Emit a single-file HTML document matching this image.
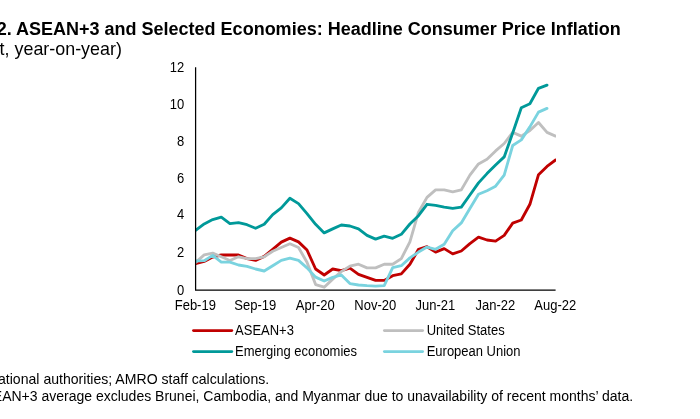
<!DOCTYPE html>
<html lang="en"><head><meta charset="utf-8"><title>ASEAN+3 and Selected Economies: Headline Consumer Price Inflation</title>
<style>
html,body{margin:0;padding:0;background:#fff;}
body{width:700px;height:419px;position:relative;overflow:hidden;}
svg{position:absolute;left:0;top:0;display:block;}
svg text{font-family:"Liberation Sans",Arial,sans-serif;fill:#000;white-space:pre;}
.a{font-size:13px;}
.h{font-size:18px;font-weight:bold;}
.s{font-size:18px;}
.f{font-size:14px;}
</style></head><body>
<svg width="700" height="419" viewBox="0 0 700 419">
<text class="h" transform="translate(-3.30 35.30) scale(1 1)">2. ASEAN+3 and Selected Economies: Headline Consumer Price Inflation</text>
<text class="s" transform="translate(-0.40 55.40) scale(0.994 1)">t, year-on-year)</text>
<clipPath id="pc"><rect x="195.6" y="50" width="360.4" height="260"/></clipPath>
<g fill="none" stroke-width="2.85" stroke-linejoin="round" stroke-linecap="round" clip-path="url(#pc)">
<polyline stroke="#C00000" points="195.6,263.6 204.2,261.4 212.7,257.0 221.3,255.0 229.9,255.0 238.5,255.0 247.0,258.6 255.6,260.4 264.2,256.4 272.7,249.3 281.3,242.1 289.9,238.1 298.5,241.9 307.0,250.0 315.6,269.0 324.2,275.0 332.7,269.0 341.3,270.7 349.9,268.1 358.5,274.3 367.0,277.4 375.6,280.4 384.2,280.4 392.7,275.7 401.3,273.9 409.9,264.3 418.5,249.3 427.0,246.7 435.6,252.1 444.2,248.6 452.7,253.9 461.3,251.0 469.9,243.6 478.5,237.1 487.0,240.0 495.6,241.1 504.2,235.4 512.7,223.1 521.3,220.0 529.9,204.3 538.5,174.7 547.0,166.4 555.6,160.0"/>
<polyline stroke="#BFBFBF" points="195.6,262.3 204.2,254.9 212.7,253.1 221.3,256.8 229.9,260.5 238.5,256.8 247.0,258.6 255.6,258.6 264.2,256.8 272.7,251.2 281.3,247.5 289.9,243.8 298.5,247.5 307.0,262.3 315.6,284.6 324.2,287.2 332.7,279.1 341.3,271.6 349.9,266.1 358.5,264.2 367.0,267.9 375.6,267.9 384.2,264.2 392.7,264.2 401.3,258.6 409.9,241.9 418.5,212.2 427.0,197.4 435.6,189.9 444.2,189.9 452.7,191.8 461.3,189.9 469.9,175.1 478.5,163.9 487.0,159.3 495.6,150.9 504.2,143.5 512.7,132.4 521.3,136.1 529.9,130.5 538.5,122.5 547.0,132.4 555.6,136.1"/>
<polyline stroke="#009999" points="195.6,230.3 204.2,223.9 212.7,219.6 221.3,217.1 229.9,223.6 238.5,222.6 247.0,224.7 255.6,228.3 264.2,224.3 272.7,214.6 281.3,207.9 289.9,198.3 298.5,203.6 307.0,213.6 315.6,224.3 324.2,232.9 332.7,228.9 341.3,225.0 349.9,226.0 358.5,228.9 367.0,235.4 375.6,239.1 384.2,236.1 392.7,238.3 401.3,234.3 409.9,224.0 418.5,215.7 427.0,204.3 435.6,205.4 444.2,207.1 452.7,208.3 461.3,207.1 469.9,195.0 478.5,182.9 487.0,173.6 495.6,165.0 504.2,156.9 512.7,133.0 521.3,107.7 529.9,103.7 538.5,88.3 547.0,85.1"/>
<polyline stroke="#7AD3DF" points="195.6,261.0 204.2,260.7 212.7,255.4 221.3,262.1 229.9,262.1 238.5,265.0 247.0,266.4 255.6,269.0 264.2,271.0 272.7,265.7 281.3,260.4 289.9,258.1 298.5,260.4 307.0,267.9 315.6,277.1 324.2,281.0 332.7,277.4 341.3,275.0 349.9,283.6 358.5,285.0 367.0,285.7 375.6,286.1 384.2,285.7 392.7,267.6 401.3,265.7 409.9,257.9 418.5,252.1 427.0,247.1 435.6,249.3 444.2,244.3 452.7,230.8 461.3,222.9 469.9,208.6 478.5,194.3 487.0,190.7 495.6,186.2 504.2,175.1 512.7,145.5 521.3,139.9 529.9,126.9 538.5,112.1 547.0,108.4"/>
</g>
<path d="M195.6 67.2 V290.2 H555.6" fill="none" stroke="#000" stroke-width="1.25"/>
<g><text class="a" transform="translate(184.20 294.95) scale(1 1.06)" text-anchor="end">0</text><text class="a" transform="translate(184.20 256.72) scale(1 1.06)" text-anchor="end">2</text><text class="a" transform="translate(184.20 219.48) scale(1 1.06)" text-anchor="end">4</text><text class="a" transform="translate(184.20 182.75) scale(1 1.06)" text-anchor="end">6</text><text class="a" transform="translate(184.20 146.42) scale(1 1.06)" text-anchor="end">8</text><text class="a" transform="translate(184.20 109.28) scale(1 1.06)" text-anchor="end">10</text><text class="a" transform="translate(184.20 72.15) scale(1 1.06)" text-anchor="end">12</text></g>
<g><text class="a" transform="translate(195.30 309.80) scale(1 1.06)" text-anchor="middle">Feb-19</text><text class="a" transform="translate(255.30 309.80) scale(1 1.06)" text-anchor="middle">Sep-19</text><text class="a" transform="translate(315.30 309.80) scale(1 1.06)" text-anchor="middle">Apr-20</text><text class="a" transform="translate(375.30 309.80) scale(1 1.06)" text-anchor="middle">Nov-20</text><text class="a" transform="translate(435.30 309.80) scale(1 1.06)" text-anchor="middle">Jun-21</text><text class="a" transform="translate(495.30 309.80) scale(1 1.06)" text-anchor="middle">Jan-22</text><text class="a" transform="translate(555.30 309.80) scale(1 1.06)" text-anchor="middle">Aug-22</text></g>
<g fill="none" stroke-width="2.85" stroke-linecap="round">
<line x1="193.5" x2="231.8" y1="330.6" y2="330.6" stroke="#C00000"/>
<line x1="193.5" x2="231.8" y1="351.6" y2="351.6" stroke="#009999"/>
<line x1="384.4" x2="422.6" y1="330.6" y2="330.6" stroke="#BFBFBF"/>
<line x1="384.4" x2="422.6" y1="351.6" y2="351.6" stroke="#7AD3DF"/>
</g>
<g><text class="a" transform="translate(235.10 335.00) scale(1 1.06)">ASEAN+3</text><text class="a" transform="translate(235.10 356.10) scale(1 1.06)">Emerging economies</text><text class="a" transform="translate(426.70 335.00) scale(1 1.06)">United States</text><text class="a" transform="translate(426.70 356.10) scale(1 1.06)">European Union</text></g>
<text class="f" transform="translate(-2.00 383.80) scale(1.006 1)">ational authorities; AMRO staff calculations.</text>
<text class="f" transform="translate(-7.20 400.80) scale(1 1)">EAN+3 average excludes Brunei, Cambodia, and Myanmar due to unavailability of recent months’ data.</text>
</svg>
</body></html>
